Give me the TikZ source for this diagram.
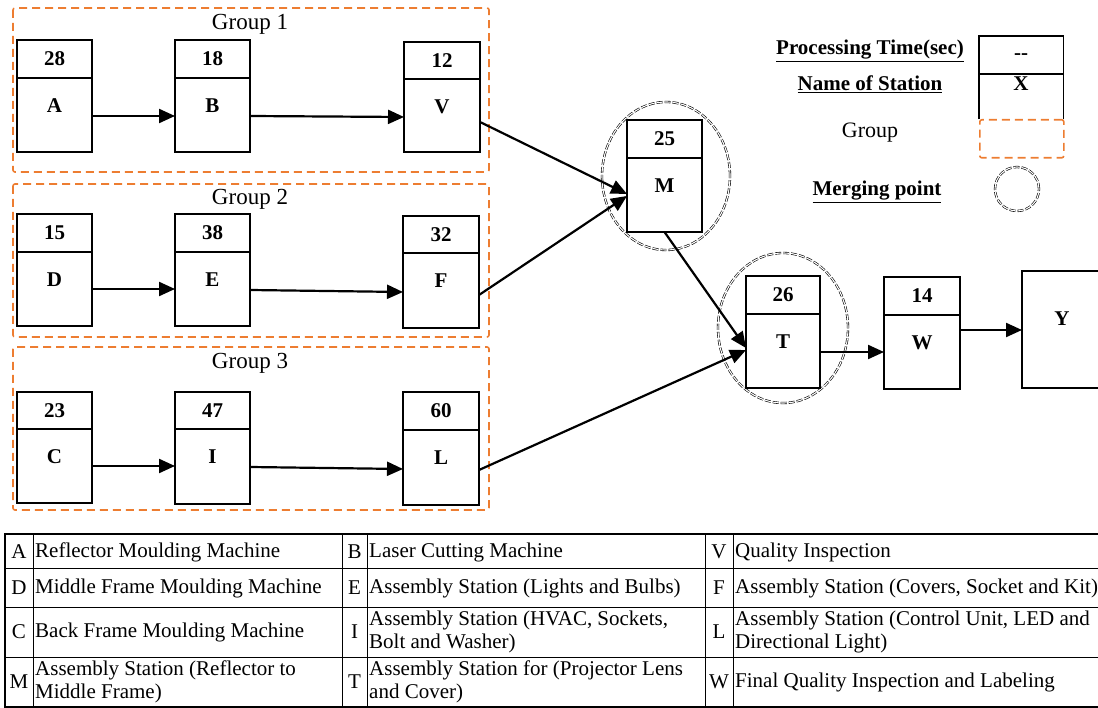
\documentclass[tikz,border=0pt]{standalone}
\usepackage{fontspec}
\setmainfont{Liberation Serif}
\usetikzlibrary{arrows.meta,shapes.geometric}
\definecolor{grouporange}{RGB}{237,125,49}

% One processing station: box, divider, processing time and station letter
% #1 name, #2 left, #3 right, #4 top, #5 divider, #6 bottom, #7 time, #8 letter
\newcommand\stationbox[8]{%
  \node[stnbox, anchor=north west, minimum width=#3-#2, minimum height=#6-#4] (#1) at (#2,#4) {};
  \draw[stnline] (#2,#5) -- (#3,#5);
  \node[stnlabel] (#1-time) at ({(#2+#3)/2},{(#4+#5)/2}) {#7};
  \node[stnlabel] (#1-name) at ({(#2+#3)/2},{#5+28}) {#8};
}

\begin{document}
\begin{tikzpicture}[x=1pt,y=-1pt,
  stnbox/.style={draw, line width=1.3pt, fill=white, inner sep=0pt, outer sep=0pt},
  stnline/.style={line width=1.1pt},
  stnlabel/.style={font=\fontsize{21}{23}\selectfont\bfseries, inner sep=0pt},
  groupbox/.style={draw=grouporange, line width=1.6pt, dash pattern=on 8pt off 5pt, rounded corners=2pt},
  grouplabel/.style={font=\fontsize{23}{25}\selectfont, inner sep=0pt},
  merge/.style={ellipse, draw=black, line width=0.6pt, double=white, double distance=1.1pt,
    dash pattern=on 6pt off 2pt, inner sep=0pt},
  flow/.style={line width=2.2pt, -{Triangle[length=16pt,width=14pt]}},
  legendtxt/.style={font=\fontsize{21}{23}\selectfont\bfseries, inner sep=0pt},
  cell/.style={font=\fontsize{21}{23}\selectfont, inner sep=0pt, align=left},
  tabline/.style={line width=0.8pt},
  tabouter/.style={line width=1.6pt}
]
\useasboundingbox (0,0) rectangle (1098,708);
\clip (0,0) rectangle (1098,708);

% ---------- groups ----------
\draw[groupbox] (13,8) rectangle (489,172);
\draw[groupbox] (13,184) rectangle (489,337);
\draw[groupbox] (13,347) rectangle (489,510);
\node[grouplabel] (g1) at (250,24) {Group 1};
\node[grouplabel] (g2) at (250,199) {Group 2};
\node[grouplabel] (g3) at (250,363) {Group 3};

% ---------- merging points ----------
\node[merge, minimum width=128, minimum height=148] (mergeM) at (666,176) {};
\node[merge, minimum width=130, minimum height=150] (mergeT) at (783,328) {};

% ---------- stations ----------
\stationbox{A}{17}{92}{40}{78}{152}{28}{A}
\stationbox{B}{175}{250}{40}{78}{152}{18}{B}
\stationbox{V}{404}{480}{42}{79}{152}{12}{V}
\stationbox{D}{17}{92}{214}{252}{326}{15}{D}
\stationbox{E}{175}{250}{214}{252}{326}{38}{E}
\stationbox{F}{403}{479}{216}{253}{328}{32}{F}
\stationbox{C}{17}{92}{392}{429}{503}{23}{C}
\stationbox{I}{175}{250}{392}{429}{504}{47}{I}
\stationbox{L}{403}{479}{392}{430}{505}{60}{L}
\stationbox{M}{627}{702}{120}{158}{232}{25}{M}
\stationbox{T}{746}{820}{276}{314}{388}{26}{T}
\stationbox{W}{884}{960}{277}{315}{389}{14}{W}
\node[stnbox, anchor=north west, minimum width=80, minimum height=117] (Y) at (1022,271) {};
\node[stnlabel] (Y-name) at (1062,319) {Y};

% ---------- flow ----------
\draw[flow] (A.east |- 0,116) -- (B.west |- 0,116);
\draw[flow] (B.east |- 0,116) -- (V.west |- 0,117);
\draw[flow] (D.east |- 0,289) -- (E.west |- 0,289);
\draw[flow] (E.east |- 0,290) -- (F.west |- 0,292);
\draw[flow] (C.east |- 0,466) -- (I.west |- 0,466);
\draw[flow] (I.east |- 0,467) -- (L.west |- 0,469);
\draw[flow] (V.east |- 0,122) -- (M.west |- 0,194);
\draw[flow] (F.east |- 0,295) -- (M.west |- 0,196);
\draw[flow] (M.south |- 0,232) -- (T.west |- 0,348);
\draw[flow] (L.east |- 0,470) -- (T.west |- 0,350);
\draw[flow] (T.east |- 0,352) -- (W.west |- 0,352);
\draw[flow] (W.east |- 0,330) -- (Y.west |- 0,330);

% ---------- legend ----------
\node[legendtxt] (lg-time) at (870,51) {\underline{Processing Time(sec)}};
\node[legendtxt] (lg-name) at (870,84) {\underline{Name of Station}};
\node[grouplabel, font=\fontsize{22}{24}\selectfont] (lg-group) at (870,133) {Group};
\node[legendtxt] (lg-merge) at (877,192) {\underline{Merging point}};
\node[inner sep=0pt, anchor=north west, minimum width=84, minimum height=83] (lg-box) at (979,36) {};
\draw[stnbox, fill=none] (lg-box.south west) -- (lg-box.north west) -- (lg-box.north east) -- (lg-box.south east);
\draw[stnline] (979,74) -- (1063,74);
\node[stnlabel] (lg-time-val) at (1021,57) {{-}{-}};
\node[stnlabel] (lg-name-val) at (1021,84) {X};
\node[groupbox, anchor=north west, minimum width=84, minimum height=38, inner sep=0pt] (lg-grp) at (979,119) {};
\node[merge, circle, minimum size=44] (lg-mrg) at (1017,189) {};

% ---------- station table ----------
\draw[tabline] (5,568) -- (1110,568);
\draw[tabline] (5,607) -- (1110,607);
\draw[tabline] (5,657) -- (1110,657);
\foreach \cx in {33,342,367,705,733} \draw[tabline] (\cx,534) -- (\cx,707);
\draw[tabouter] (1110,534) -- (5,534) -- (5,707) -- (1110,707);

\node[cell] (k1) at (19,552) {A};
\node[cell, anchor=west] (d1) at (35,552) {Reflector Moulding Machine};
\node[cell] (k2) at (354.5,552) {B};
\node[cell, anchor=west] (d2) at (369,552) {Laser Cutting Machine};
\node[cell] (k3) at (719,552) {V};
\node[cell, anchor=west] (d3) at (735,552) {Quality Inspection};

\node[cell] (k4) at (19,588) {D};
\node[cell, anchor=west] (d4) at (35,588) {Middle Frame Moulding Machine};
\node[cell] (k5) at (354.5,588) {E};
\node[cell, anchor=west] (d5) at (369,588) {Assembly Station (Lights and Bulbs)};
\node[cell] (k6) at (719,588) {F};
\node[cell, anchor=west] (d6) at (735,588) {Assembly Station (Covers, Socket and Kit)};

\node[cell] (k7) at (19,632) {C};
\node[cell, anchor=west] (d7) at (35,632) {Back Frame Moulding Machine};
\node[cell] (k8) at (354.5,632) {I};
\node[cell, anchor=west] (d8) at (369,632) {Assembly Station (HVAC, Sockets,\\Bolt and Washer)};
\node[cell] (k9) at (719,632) {L};
\node[cell, anchor=west] (d9) at (735,632) {Assembly Station (Control Unit, LED and\\Directional Light)};

\node[cell] (k10) at (19,682) {M};
\node[cell, anchor=west] (d10) at (35,682) {Assembly Station (Reflector to\\Middle Frame)};
\node[cell] (k11) at (354.5,682) {T};
\node[cell, anchor=west] (d11) at (369,682) {Assembly Station for (Projector Lens\\and Cover)};
\node[cell] (k12) at (719,682) {W};
\node[cell, anchor=west] (d12) at (735,682) {Final Quality Inspection and Labeling};
\end{tikzpicture}
\end{document}
